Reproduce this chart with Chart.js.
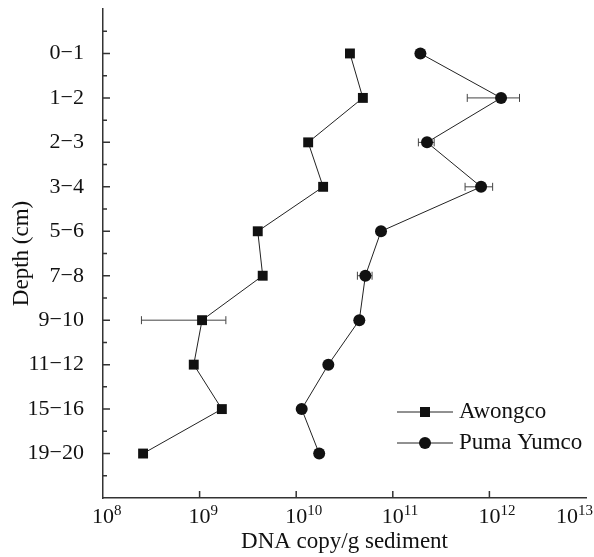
<!DOCTYPE html>
<html>
<head>
<meta charset="utf-8">
<script src="https://cdn.jsdelivr.net/npm/chart.js@4"></script>
<style>
    html, body { margin: 0; padding: 0; background: #fff; }
    #grafico { width: 594px; height: 557px; }
</style>
</head>
<body>
<div id="grafico"><canvas id="lienzo"></canvas></div>
<script>
// profundidades (eje y, de arriba abajo)
const profundidades = ['0−1', '1−2', '2−3', '3−4', '5−6', '7−8', '9−10', '11−12', '15−16', '19−20'];

// Awongco (cuadrados)
const awongco = [3.6e10, 4.9e10, 1.33e10, 1.9e10, 4.0e9, 4.5e9, 1.06e9, 8.7e8, 1.7e9, 2.6e8];
const awongcoError = [0, 0, 0, 0, 0, 0, 8.1e8, 0, 0, 0];

// Puma Yumco (circulos)
const puma = [1.93e11, 1.32e12, 2.26e11, 8.2e11, 7.55e10, 5.2e10, 4.5e10, 2.15e10, 1.14e10, 1.73e10];
const pumaError = [0, 7.3e11, 4.2e10, 2.6e11, 0, 9e9, 0, 0, 0, 0];

// marcas del eje x: 10 elevado a estos exponentes
const exponentes = ['8', '9', '10', '11', '12', '13'];
const decadas = exponentes.map(e => Math.pow(10, Number(e)));

const fuente = "'Liberation Serif', 'Times New Roman', serif";
const negro = '#111';

function puntos(valores) {
    return valores.map((v, i) => ({ x: v, y: i }));
}

// barras de error horizontales
const barrasError = {
    id: 'barrasError',
    beforeDatasetsDraw(chart) {
        const ctx = chart.ctx;
        const ejeX = chart.scales.x;
        const ejeY = chart.scales.y;
        const series = [[awongco, awongcoError], [puma, pumaError]];
        ctx.save();
        ctx.strokeStyle = '#444';
        ctx.lineWidth = 1;
        series.forEach(([valores, errores]) => {
            valores.forEach((v, i) => {
                if (!errores[i]) return;
                const x1 = ejeX.getPixelForValue(v - errores[i]);
                const x2 = ejeX.getPixelForValue(v + errores[i]);
                const y = ejeY.getPixelForValue(i);
                ctx.beginPath();
                ctx.moveTo(x1, y); ctx.lineTo(x2, y);
                ctx.moveTo(x1, y - 4); ctx.lineTo(x1, y + 4);
                ctx.moveTo(x2, y - 4); ctx.lineTo(x2, y + 4);
                ctx.stroke();
            });
        });
        ctx.restore();
    }
};

// marcas hacia dentro, etiquetas 10^n y leyenda
const marcasYLeyenda = {
    id: 'marcasYLeyenda',
    afterDraw(chart) {
        const ctx = chart.ctx;
        const area = chart.chartArea;
        const ejeX = chart.scales.x;
        const ejeY = chart.scales.y;
        ctx.save();
        ctx.strokeStyle = '#333';
        ctx.lineWidth = 1.5;
        ctx.beginPath();
        ejeY.ticks.forEach(t => {
            if (t.value <= -1 || t.value >= profundidades.length) return;
            const y = ejeY.getPixelForValue(t.value);
            const largo = Number.isInteger(t.value) ? 7 : 4;
            ctx.moveTo(area.left, y);
            ctx.lineTo(area.left + largo, y);
        });
        decadas.slice(1, -1).forEach(d => {
            const x = ejeX.getPixelForValue(d);
            ctx.moveTo(x, area.bottom);
            ctx.lineTo(x, area.bottom - 7);
        });
        ctx.stroke();

        // etiquetas del eje x con exponente
        ctx.fillStyle = negro;
        ctx.textBaseline = 'alphabetic';
        decadas.forEach((d, i) => {
            ctx.font = '22px ' + fuente;
            const base = '10';
            const anchoBase = ctx.measureText(base).width;
            ctx.font = '15px ' + fuente;
            const anchoExp = ctx.measureText(exponentes[i]).width;
            let x = ejeX.getPixelForValue(d) - anchoBase / 2;
            x = Math.min(x, chart.width - 1 - anchoBase - anchoExp);
            ctx.font = '22px ' + fuente;
            ctx.fillText(base, x, area.bottom + 25);
            ctx.font = '15px ' + fuente;
            ctx.fillText(exponentes[i], x + anchoBase, area.bottom + 17);
        });

        // leyenda
        const items = [['Awongco', 'rect'], ['Puma Yumco', 'circle']];
        items.forEach(([texto, forma], i) => {
            const y = 412 + i * 31;
            const x0 = 397;
            ctx.strokeStyle = '#222';
            ctx.lineWidth = 1;
            ctx.beginPath();
            ctx.moveTo(x0, y); ctx.lineTo(x0 + 56, y);
            ctx.stroke();
            ctx.fillStyle = negro;
            ctx.beginPath();
            if (forma === 'rect') ctx.rect(x0 + 28 - 5, y - 5, 10, 10);
            else ctx.arc(x0 + 28, y, 6, 0, Math.PI * 2);
            ctx.fill();
            ctx.font = '23px ' + fuente;
            ctx.textBaseline = 'middle';
            ctx.fillText(texto, x0 + 62, y);
        });
        ctx.restore();
    }
};

new Chart(document.getElementById('lienzo'), {
    type: 'line',
    data: {
        datasets: [{
            label: 'Awongco',
            data: puntos(awongco),
            borderColor: '#222',
            borderWidth: 1,
            pointStyle: 'rect',
            pointRadius: 7,
            pointBackgroundColor: negro,
            pointBorderColor: negro,
            pointBorderWidth: 0
        }, {
            label: 'Puma Yumco',
            data: puntos(puma),
            borderColor: '#222',
            borderWidth: 1,
            pointStyle: 'circle',
            pointRadius: 6,
            pointBackgroundColor: negro,
            pointBorderColor: negro,
            pointBorderWidth: 0
        }]
    },
    options: {
        responsive: true,
        maintainAspectRatio: false,
        animation: false,
        layout: { padding: { left: 0, right: 8, top: 9, bottom: 0 } },
        plugins: {
            legend: { display: false },
            tooltip: { enabled: false }
        },
        scales: {
            x: {
                type: 'logarithmic',
                min: 1e8,
                max: 1e13,
                afterBuildTicks(eje) {
                    eje.ticks = decadas.map(d => ({ value: d }));
                },
                afterFit(eje) {
                    eje.height = 59;
                    eje.paddingLeft = 0;
                    eje.paddingRight = 0;
                },
                grid: { display: false },
                border: { display: true, color: '#333', width: 1.5 },
                ticks: { display: false },
                title: {
                    display: true,
                    text: 'DNA copy/g sediment',
                    color: negro,
                    font: { family: fuente, size: 23 },
                    padding: { top: 0, bottom: 1 }
                }
            },
            y: {
                type: 'linear',
                reverse: true,
                min: -1,
                max: profundidades.length,
                afterFit(eje) {
                    eje.width = 103;
                    eje.paddingTop = 0;
                    eje.paddingBottom = 0;
                },
                grid: { display: false },
                border: { display: true, color: '#333', width: 1.5 },
                ticks: {
                    stepSize: 0.5,
                    autoSkip: false,
                    padding: 11,
                    color: negro,
                    font: { family: fuente, size: 22 },
                    callback: (v) => (Number.isInteger(v) && v >= 0 && v < profundidades.length) ? profundidades[v] : ''
                },
                title: {
                    display: true,
                    text: 'Depth (cm)',
                    color: negro,
                    font: { family: fuente, size: 23 },
                    padding: { top: 8, bottom: 0 }
                }
            }
        }
    },
    plugins: [barrasError, marcasYLeyenda]
});
</script>
</body>
</html>
